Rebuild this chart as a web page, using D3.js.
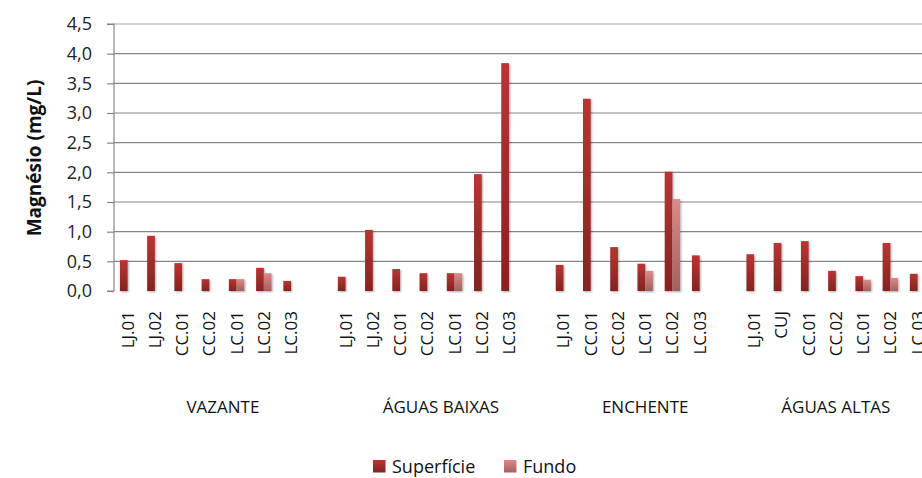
<!DOCTYPE html>
<html><head><meta charset="utf-8">
<script src="https://cdn.jsdelivr.net/npm/d3@7"></script>
<style>html,body{margin:0;padding:0;background:#fff;overflow:hidden}text{font-family:"Open Sans",sans-serif}</style>
</head><body><svg id="c" width="922" height="478"></svg>
<script>
const groups = ["VAZANTE", "ÁGUAS BAIXAS", "ENCHENTE", "ÁGUAS ALTAS"];
const stations = [
  ["LJ.01","LJ.02","CC.01","CC.02","LC.01","LC.02","LC.03"],
  ["LJ.01","LJ.02","CC.01","CC.02","LC.01","LC.02","LC.03"],
  ["LJ.01","CC.01","CC.02","LC.01","LC.02","LC.03"],
  ["LJ.01","CUJ","CC.01","CC.02","LC.01","LC.02","LC.03"]
];
const superficie = [
  [0.52, 0.93, 0.47, 0.20, 0.20, 0.39, 0.17],
  [0.24, 1.03, 0.37, 0.30, 0.30, 1.97, 3.84],
  [0.44, 3.24, 0.74, 0.46, 2.01, 0.60],
  [0.62, 0.81, 0.84, 0.34, 0.25, 0.81, 0.29]
];
const fundo = [
  [null, null, null, null, 0.20, 0.30, null],
  [null, null, null, null, 0.30, null, null],
  [null, null, null, 0.34, 1.55, null],
  [null, null, null, null, 0.19, 0.22, null]
];
const seriesNames = ["Superfície", "Fundo"];
const yTicks = [0, 0.5, 1, 1.5, 2, 2.5, 3, 3.5, 4, 4.5];

const svg = d3.select("#c");
const defs = svg.append("defs");
function grad(id, top, bottom) {
  const g = defs.append("linearGradient").attr("id", id).attr("x1",0).attr("y1",0).attr("x2",0).attr("y2",1);
  g.append("stop").attr("offset","0%").attr("stop-color",top);
  g.append("stop").attr("offset","100%").attr("stop-color",bottom);
}
grad("gS", "#b83532", "#842322");
grad("gF", "#dc8a89", "#a3605f");
const f = defs.append("filter").attr("id","sh").attr("x","-50%").attr("y","-10%").attr("width","200%").attr("height","120%");
f.append("feGaussianBlur").attr("in","SourceAlpha").attr("stdDeviation",1.2).attr("result","b");
f.append("feOffset").attr("in","b").attr("dx",0.8).attr("dy",0.8).attr("result","o");
f.append("feComponentTransfer").attr("in","o").attr("result","o2").append("feFuncA").attr("type","linear").attr("slope",0.35);
const m = f.append("feMerge"); m.append("feMergeNode").attr("in","o2"); m.append("feMergeNode").attr("in","SourceGraphic");

// build slots
const slots = [];
groups.forEach((g, gi) => {
  stations[gi].forEach((s, si) => slots.push({key: gi + "_" + si, group: gi, name: s, sup: superficie[gi][si], fun: fundo[gi][si]}));
  if (gi < groups.length - 1) slots.push({key: gi + "_blank", group: gi, name: "", sup: null, fun: null});
});

const left = 114, slotW = 27.24;
const x = d3.scaleBand().domain(slots.map(d => d.key)).range([left, left + slots.length * slotW]).paddingInner(0).paddingOuter(0);
const x1 = d3.scaleBand().domain(seriesNames).range([0, 15.4]);
const y = d3.scaleLinear().domain([0, 4.5]).range([291, 24]);
const fmt = v => d3.format(".1f")(v).replace(".", ",");

// gridlines
svg.append("g").selectAll("line").data(yTicks.filter(t => t > 0)).join("line")
  .attr("x1", left).attr("x2", 922).attr("y1", d => y(d)).attr("y2", d => y(d))
  .attr("stroke", d => d === 4.5 ? "#c4c4c4" : "#868686").attr("stroke-width", d => d === 4.5 ? 1.5 : 1.2);

// y axis
const yAxis = d3.axisLeft(y).tickValues(yTicks).tickFormat(fmt).tickSize(7).tickPadding(15);
const ya = svg.append("g").attr("transform", `translate(${left},0)`).call(yAxis);
ya.select(".domain").attr("stroke", "#868686").attr("stroke-width", 1.2).attr("d", `M-7,${y(4.5)}H0V${y(0)}H-7`);
ya.selectAll(".tick line").attr("stroke", "#868686").attr("stroke-width", 1.2);
ya.selectAll(".tick text").attr("font-size", 18).attr("fill", "#222").attr("font-family", "Open Sans");

// bars
const bw = x1.bandwidth();
const off = (x.bandwidth() - 15.4) / 2;
const bars = svg.append("g");
bars.selectAll("rect.s").data(slots.filter(d => d.sup != null)).join("rect").attr("class","s")
  .attr("x", d => x(d.key) + off + x1("Superfície")).attr("width", bw)
  .attr("y", d => y(d.sup)).attr("height", d => y(0) - y(d.sup)).attr("fill", "url(#gS)").attr("filter","url(#sh)");
bars.selectAll("rect.f").data(slots.filter(d => d.fun != null)).join("rect").attr("class","f")
  .attr("x", d => x(d.key) + off + x1("Fundo")).attr("width", bw)
  .attr("y", d => y(d.fun)).attr("height", d => y(0) - y(d.fun)).attr("fill", "url(#gF)").attr("filter","url(#sh)");

// station labels
svg.append("g").selectAll("text").data(slots.filter(d => d.name)).join("text")
  .attr("transform", d => `translate(${x(d.key) + x.bandwidth() / 2 + 6},311) rotate(-90)`)
  .attr("text-anchor", "end").attr("font-size", 17).attr("fill", "#111").text(d => d.name);

// group labels
svg.append("g").selectAll("text").data(groups).join("text")
  .attr("x", (g, gi) => {
    const ks = slots.filter(d => d.group === gi);
    return (x(ks[0].key) + x(ks[ks.length - 1].key) + x.bandwidth()) / 2;
  })
  .attr("y", 413).attr("text-anchor", "middle").attr("font-size", 17).attr("fill", "#111").text(d => d);

// y title
svg.append("text").attr("transform", "translate(41,158) rotate(-90)").attr("text-anchor", "middle")
  .attr("font-size", 19).attr("font-weight", "bold").attr("fill", "#111").text("Magnésio (mg/L)");

// legend
const leg = svg.append("g");
const legX = [373, 504];
seriesNames.forEach((s, i) => {
  leg.append("rect").attr("x", legX[i]).attr("y", 460).attr("width", 12.5).attr("height", 12.5).attr("fill", i ? "url(#gF)" : "url(#gS)");
  leg.append("text").attr("x", legX[i] + 19).attr("y", 472.5).attr("font-size", 18).attr("fill", "#111").text(s);
});
</script></body></html>
